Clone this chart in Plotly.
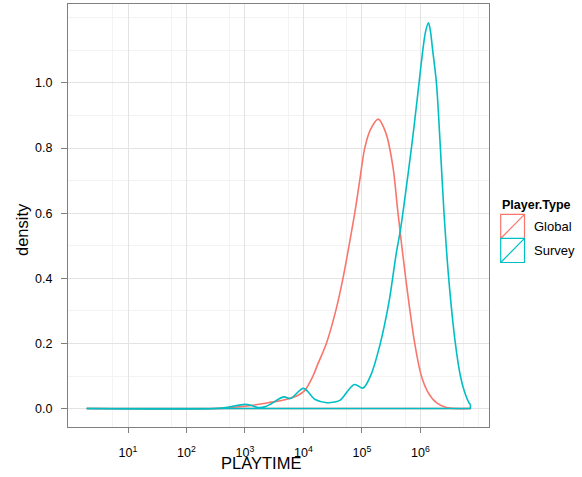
import plotly.graph_objects as go

# ---- data (x in log10(PLAYTIME), y = density) ----
global_log10 = [0.294, 2.5, 2.75, 3.0, 3.4, 3.7, 3.9, 4.02, 4.163, 4.249, 4.392, 4.552,
                4.676, 4.779, 4.877, 4.962, 5.048, 5.146, 5.28, 5.41, 5.53, 5.617, 5.749,
                5.903, 6.017, 6.13, 6.273, 6.444, 6.6, 6.855]
global_density = [0, 0, 0.003, 0.007, 0.018, 0.028, 0.040, 0.055, 0.100, 0.138, 0.200, 0.300,
                  0.400, 0.500, 0.600, 0.700, 0.800, 0.857, 0.889, 0.846, 0.743, 0.600, 0.400,
                  0.200, 0.100, 0.050, 0.018, 0.003, 0, 0]

survey_log10 = [0.294, 2.5, 2.7, 3.0, 3.1, 3.22, 3.35, 3.45, 3.66, 3.78, 4.0, 4.2, 4.4, 4.53,
                4.63, 4.87, 5.02, 5.16, 5.30, 5.39, 5.475, 5.59, 5.655, 5.723, 5.86, 5.945,
                6.048, 6.091, 6.137, 6.171, 6.205, 6.274, 6.342, 6.404, 6.484, 6.598, 6.684,
                6.757, 6.831, 6.855]
survey_density = [0, 0, 0.004, 0.013, 0.010, 0.003, 0.006, 0.015, 0.036, 0.031, 0.062, 0.028,
                  0.018, 0.020, 0.026, 0.074, 0.063, 0.106, 0.190, 0.260, 0.340, 0.480, 0.545,
                  0.630, 0.820, 0.950, 1.110, 1.160, 1.185, 1.160, 1.108, 1.000, 0.800, 0.600,
                  0.400, 0.200, 0.100, 0.050, 0.018, 0.013]

series_names = ["Global", "Survey"]
series_colors = ["#F8766D", "#00BFC4"]

x_tick_exponents = [1, 2, 3, 4, 5, 6]
x_minor_values = [5.5, 55, 550, 5500, 55000, 550000, 5500000, 10000000]
y_tick_values = [0.0, 0.2, 0.4, 0.6, 0.8, 1.0]
y_tick_labels = ["0.0", "0.2", "0.4", "0.6", "0.8", "1.0"]

W, H = 582, 477
PL, PR, PT, PB = 68, 489, 4, 427


def pxx(x):
    return (x - PL) / (PR - PL)


def pxy(y):
    return (PB - y) / (PB - PT)


fig = go.Figure()

for name, color, lx, dens in [
    (series_names[0], series_colors[0], global_log10, global_density),
    (series_names[1], series_colors[1], survey_log10, survey_density),
]:
    xs = [10 ** v for v in lx]
    fig.add_trace(go.Scatter(
        x=xs, y=dens, mode="lines", name=name,
        line=dict(color=color, width=1.6, shape="spline", smoothing=0.9),
        showlegend=False, hoverinfo="skip"))
    # closing outline of the density polygon (end drop + baseline)
    fig.add_trace(go.Scatter(
        x=[xs[-1], xs[-1], xs[0]], y=[dens[-1], 0, 0], mode="lines",
        line=dict(color=color, width=1.6), showlegend=False, hoverinfo="skip"))

fig.update_layout(
    width=W, height=H,
    margin=dict(l=PL, r=W - PR, t=PT, b=H - PB, pad=0),
    paper_bgcolor="white", plot_bgcolor="white",
    font=dict(family="Liberation Sans, Arial, sans-serif", color="black"),
    showlegend=False,
)

fig.update_xaxes(
    type="log", range=[-0.026, 7.173],
    tickmode="array",
    tickvals=[10 ** e for e in x_tick_exponents],
    ticktext=["10<sup>%d</sup>" % e for e in x_tick_exponents],
    tickfont=dict(size=12.5, color="black"),
    ticks="outside", ticklen=5, tickwidth=1, tickcolor="#7f7f7f",
    ticklabelstandoff=9,
    showgrid=True, gridcolor="#e3e3e3", gridwidth=1,
    minor=dict(tickmode="array", tickvals=x_minor_values, showgrid=True,
               gridcolor="#f3f3f3", gridwidth=1, ticklen=0),
    showline=True, mirror=True, linecolor="#7f7f7f", linewidth=1,
    zeroline=False,
)
fig.update_yaxes(
    range=[-0.0566, 1.2425],
    tickmode="array", tickvals=y_tick_values, ticktext=y_tick_labels,
    tickfont=dict(size=12.5, color="black"),
    ticks="outside", ticklen=6, tickwidth=1, tickcolor="#7f7f7f",
    ticklabelstandoff=6,
    showgrid=True, gridcolor="#e3e3e3", gridwidth=1,
    minor=dict(dtick=0.1, tick0=0, showgrid=True, gridcolor="#f3f3f3",
               gridwidth=1, ticklen=0),
    showline=True, mirror=True, linecolor="#7f7f7f", linewidth=1,
    zeroline=False,
)

annotations = [
    dict(text="PLAYTIME", x=pxx(261), y=pxy(463), xref="paper", yref="paper",
         xanchor="center", yanchor="middle", showarrow=False,
         font=dict(size=16.5, color="black")),
    dict(text="density", x=pxx(22), y=pxy(230), xref="paper", yref="paper",
         xanchor="center", yanchor="middle", showarrow=False, textangle=-90,
         font=dict(size=16.5, color="black")),
    dict(text="<b>Player.Type</b>", x=pxx(500), y=pxy(205), xref="paper", yref="paper",
         xanchor="left", yanchor="middle", showarrow=False,
         font=dict(size=12.5, color="black")),
]
shapes = []
key_top = [214.3, 238.3]
key_h = 24.2
for i, (name, color) in enumerate(zip(series_names, series_colors)):
    y0 = key_top[i]
    y1 = y0 + key_h
    shapes.append(dict(type="rect", xref="paper", yref="paper",
                       x0=pxx(500.7), x1=pxx(524.5), y0=pxy(y1), y1=pxy(y0),
                       line=dict(color=color, width=1.2), fillcolor="white"))
    shapes.append(dict(type="line", xref="paper", yref="paper",
                       x0=pxx(500.7), x1=pxx(524.5), y0=pxy(y1), y1=pxy(y0),
                       line=dict(color=color, width=1.2)))
    annotations.append(dict(text=name, x=pxx(531.5), y=pxy((y0 + y1) / 2),
                            xref="paper", yref="paper", xanchor="left", yanchor="middle",
                            showarrow=False, font=dict(size=13, color="black")))

fig.update_layout(annotations=annotations, shapes=shapes)

fig.write_html(
    "out.html",
    config={"displayModeBar": False, "staticPlot": True},
    post_script="document.body.style.margin='0';document.body.style.padding='0';"
                "document.body.style.overflow='hidden';",
)
